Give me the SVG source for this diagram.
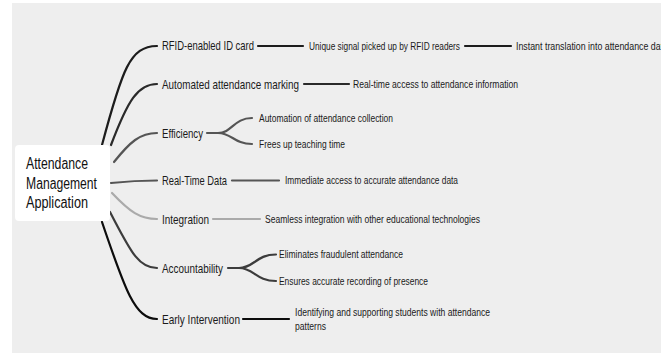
<svg xmlns="http://www.w3.org/2000/svg" width="667" height="355" viewBox="0 0 667 355">
<style>
  text { font-family: "Liberation Sans", Arial, sans-serif; fill: #1a1a1a; }
  .main { font-size: 13px; }
  .sub { font-size: 10px; }
  .center { font-size: 16px; fill: #111; }
  .c { fill: none; stroke-width: 2.2; stroke-linecap: round; }
</style>
<defs>
  <clipPath id="panelClip"><rect x="12" y="3" width="649" height="350"/></clipPath>
</defs>
<rect x="0" y="0" width="667" height="355" fill="#ffffff"/>
<rect x="12" y="3" width="649" height="350" fill="#eeeeee"/>

<g id="connectors">
  <path class="c" stroke="#1c1c1c" d="M102,145 C122,70 130,46 157,46"/>
  <path class="c" stroke="#2a2a2a" d="M111,145 C128,100 138,84 157,84"/>
  <path class="c" stroke="#555555" d="M114,162 C130,142 140,133 157,133"/>
  <path class="c" stroke="#555555" d="M111,183 C130,181 140,180.5 157,180.5"/>
  <path class="c" stroke="#aaaaaa" d="M112,193 C130,212 140,219 157,219"/>
  <path class="c" stroke="#3c3c3c" d="M110,212 C130,250 138,268 157,268"/>
  <path class="c" stroke="#0c0c0c" d="M102,222 C125,290 135,319 157,319"/>

  <path class="c" stroke="#1c1c1c" stroke-width="2.5" d="M258,46 L303,46"/>
  <path class="c" stroke="#1c1c1c" stroke-width="2.5" d="M465,46 L511,46"/>
  <path class="c" stroke="#2a2a2a" stroke-width="2.5" d="M304,84 L349,84"/>

  <path class="c" stroke="#555555" stroke-width="2.5" d="M207,133 L218,133"/>
  <path class="c" stroke="#555555" stroke-width="2.5" d="M218,133 C232,133 234,118 252,118"/>
  <path class="c" stroke="#555555" stroke-width="2.5" d="M218,133 C232,133 234,144 252,144"/>

  <path class="c" stroke="#555555" stroke-width="2.5" d="M232,180.5 L279,180.5"/>
  <path class="c" stroke="#aaaaaa" stroke-width="2.5" d="M213,219 L260,219"/>

  <path class="c" stroke="#3c3c3c" stroke-width="2.5" d="M228,268 L239,268"/>
  <path class="c" stroke="#3c3c3c" stroke-width="2.5" d="M239,268 C254,268 256,254.5 276,254.5"/>
  <path class="c" stroke="#3c3c3c" stroke-width="2.5" d="M239,268 C254,268 256,281 276,281"/>

  <path class="c" stroke="#0c0c0c" stroke-width="3" d="M243,319 L289,319"/>
</g>

<g id="center-node">
  <rect x="15" y="145" width="95" height="76" rx="4" fill="#ffffff"/>
  <text class="center" x="26" y="168.5" textLength="62" lengthAdjust="spacingAndGlyphs">Attendance</text>
  <text class="center" x="26" y="188.5" textLength="71" lengthAdjust="spacingAndGlyphs">Management</text>
  <text class="center" x="26" y="207.5" textLength="62" lengthAdjust="spacingAndGlyphs">Application</text>
</g>

<g id="rfid">
  <text class="main" x="162" y="49.8" textLength="92" lengthAdjust="spacingAndGlyphs">RFID-enabled ID card</text>
</g>
<g id="rfid-signal">
  <text class="sub" x="309" y="49.6" textLength="151" lengthAdjust="spacingAndGlyphs">Unique signal picked up by RFID readers</text>
</g>
<g id="rfid-translation" clip-path="url(#panelClip)">
  <text class="sub" x="516" y="49.6" textLength="152" lengthAdjust="spacingAndGlyphs">Instant translation into attendance data</text>
</g>

<g id="automated">
  <text class="main" x="162" y="88.5" textLength="137" lengthAdjust="spacingAndGlyphs">Automated attendance marking</text>
</g>
<g id="automated-realtime">
  <text class="sub" x="353" y="87.6" textLength="165" lengthAdjust="spacingAndGlyphs">Real-time access to attendance information</text>
</g>

<g id="efficiency">
  <text class="main" x="162" y="137.5" textLength="41" lengthAdjust="spacingAndGlyphs">Efficiency</text>
</g>
<g id="efficiency-automation">
  <text class="sub" x="259" y="121.6" textLength="134" lengthAdjust="spacingAndGlyphs">Automation of attendance collection</text>
</g>
<g id="efficiency-frees">
  <text class="sub" x="259" y="147.6" textLength="86" lengthAdjust="spacingAndGlyphs">Frees up teaching time</text>
</g>

<g id="realtime">
  <text class="main" x="162" y="185" textLength="65" lengthAdjust="spacingAndGlyphs">Real-Time Data</text>
</g>
<g id="realtime-immediate">
  <text class="sub" x="285" y="184.1" textLength="173" lengthAdjust="spacingAndGlyphs">Immediate access to accurate attendance data</text>
</g>

<g id="integration">
  <text class="main" x="162" y="223.5" textLength="47" lengthAdjust="spacingAndGlyphs">Integration</text>
</g>
<g id="integration-seamless">
  <text class="sub" x="265" y="222.6" textLength="215" lengthAdjust="spacingAndGlyphs">Seamless integration with other educational technologies</text>
</g>

<g id="accountability">
  <text class="main" x="162" y="272.5" textLength="61" lengthAdjust="spacingAndGlyphs">Accountability</text>
</g>
<g id="accountability-eliminates">
  <text class="sub" x="279" y="258.1" textLength="124" lengthAdjust="spacingAndGlyphs">Eliminates fraudulent attendance</text>
</g>
<g id="accountability-ensures">
  <text class="sub" x="279" y="284.6" textLength="149" lengthAdjust="spacingAndGlyphs">Ensures accurate recording of presence</text>
</g>

<g id="early">
  <text class="main" x="162" y="323.5" textLength="78" lengthAdjust="spacingAndGlyphs">Early Intervention</text>
</g>
<g id="early-identifying">
  <text class="sub" x="295" y="316.2" textLength="195" lengthAdjust="spacingAndGlyphs">Identifying and supporting students with attendance</text>
  <text class="sub" x="295" y="330.2" textLength="31" lengthAdjust="spacingAndGlyphs">patterns</text>
</g>
</svg>
